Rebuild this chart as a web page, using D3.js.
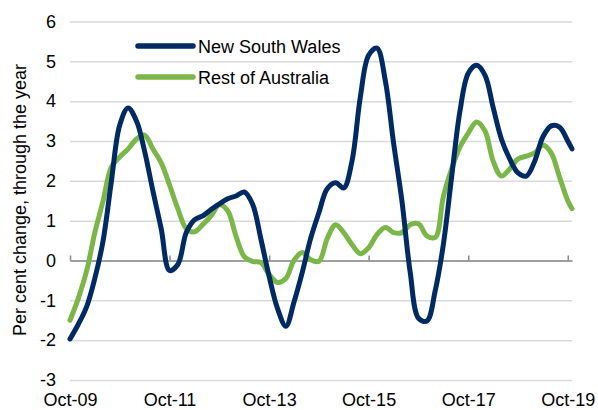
<!DOCTYPE html>
<html>
<head>
<meta charset="utf-8">
<script src="https://cdn.jsdelivr.net/npm/d3@7"></script>
<style>
    body { margin: 0; background: #fff; }
    text { font-family: "Liberation Sans", Arial, sans-serif; font-size: 18px; fill: #000; }
</style>
</head>
<body>
<div id="chart"></div>
<script>

// Series values, one reading every 2 months from Oct-09, last one Nov-19
let nswValues = [
    -1.97, -1.6, -1.15, -0.45, 0.5, 2.0, 3.4, 3.83, 3.5, 2.75,
    1.75, 0.8, -0.25, -0.1, 0.7, 1.02, 1.12, 1.28, 1.42, 1.55,
    1.62, 1.72, 1.42, 0.55, -0.4, -1.2, -1.65, -1.05, -0.3, 0.55,
    1.2, 1.8, 1.95, 1.82, 2.5, 4.1, 5.15, 5.33, 4.5, 2.95,
    1.5, -0.3, -1.45, -1.52, -0.75, 0.4, 2.1, 3.75, 4.7, 4.9,
    4.65, 3.85, 3.05, 2.55, 2.2, 2.12, 2.5, 3.1, 3.38, 3.35,
    3.0, 2.8
]

let restValues = [
    -1.5, -0.95, -0.25, 0.7, 1.5, 2.35, 2.6, 2.8, 3.05, 3.15,
    2.8, 2.45, 1.9, 1.3, 0.8, 0.72, 0.9, 1.12, 1.4, 1.25,
    0.6, 0.1, -0.02, -0.05, -0.35, -0.55, -0.45, 0.0, 0.2, 0.02,
    -0.02, 0.55, 0.9, 0.7, 0.4, 0.17, 0.32, 0.65, 0.83, 0.7,
    0.7, 0.9, 0.92, 0.62, 0.58, 1.6, 2.3, 2.85, 3.2, 3.48,
    3.25, 2.5, 2.12, 2.3, 2.55, 2.62, 2.7, 2.9, 2.7, 2.1,
    1.5, 1.3
]

let seriesNames = ['New South Wales', 'Rest of Australia']
let tickLabels = ['Oct-09', 'Oct-11', 'Oct-13', 'Oct-15', 'Oct-17', 'Oct-19']
let yTicks = [-3, -2, -1, 0, 1, 2, 3, 4, 5, 6]

class lineChart {
    constructor() {
    this.width = 598
    this.height = 410
    this.colors = ['#002a64', '#7ab648']

    // Dates for the readings (every 2nd month counted from Oct-09)
    let start = new Date(2009, 9, 1)
    let end = new Date(2019, 10, 1)
    this.dates = d3.timeMonth.range(start, end, 2)
    this.dates.push(end)

    this.tickDates = tickLabels.map(t => new Date(2000 + +t.slice(4), 9, 1))

    this.x = d3.scaleTime()
        .domain([start, end])
        .range([70, 572])

    this.y = d3.scaleLinear()
        .domain([-3, 6])
        .range([380, 21.5])
    } // End constructor

    draw() {
        let svg = d3.select('#chart').append('svg')
            .attr('width', this.width)
            .attr('height', this.height)

        // Gridlines
        svg.append('g')
            .attr('transform', 'translate(70,0)')
            .call(d3.axisLeft(this.y).tickValues(yTicks).tickSize(-502).tickFormat(''))
            .call(g => g.select('.domain').remove())
            .call(g => g.selectAll('line').attr('stroke', '#d9d9d9').attr('stroke-width', 1.5))

        // Y labels
        svg.append('g')
            .attr('transform', 'translate(56,0)')
            .call(d3.axisLeft(this.y).tickValues(yTicks).tickSize(0).tickPadding(0).tickFormat(d => String(d)))
            .call(g => g.select('.domain').remove())
            .call(g => g.selectAll('text').style('font-size', '18px').attr('fill', '#000'))

        // Zero line with ticks pointing up
        svg.append('g')
            .attr('transform', `translate(0,${this.y(0)})`)
            .call(d3.axisBottom(this.x).tickValues(this.tickDates).tickSizeInner(-5).tickSizeOuter(0).tickFormat(''))
            .call(g => g.select('.domain').attr('stroke', '#888').attr('stroke-width', 1.5))
            .call(g => g.selectAll('line').attr('stroke', '#888').attr('stroke-width', 1.5))

        // X labels at the bottom
        svg.append('g')
            .attr('transform', 'translate(0,393)')
            .call(d3.axisBottom(this.x).tickValues(this.tickDates).tickSize(0).tickPadding(0)
                .tickFormat((d, i) => tickLabels[i]))
            .call(g => g.select('.domain').remove())
            .call(g => g.selectAll('text').style('font-size', '18px').attr('fill', '#000'))

        // Y axis title
        svg.append('text')
            .attr('transform', 'translate(26,200) rotate(-90)')
            .attr('text-anchor', 'middle')
            .text('Per cent change, through the year')

        let line = d3.line()
            .x((d, i) => this.x(this.dates[i]))
            .y(d => this.y(d))
            .curve(d3.curveCatmullRom.alpha(0.5))

        let series = [nswValues, restValues]

        // Draw green below blue, like the reference
        svg.selectAll('.series')
            .data(series.slice().reverse())
            .join('path')
            .attr('class', 'series')
            .attr('d', d => line(d))
            .attr('fill', 'none')
            .attr('stroke', (d, i) => this.colors[1 - i])
            .attr('stroke-width', 5)
            .attr('stroke-linecap', 'round')
            .attr('stroke-linejoin', 'round')

        this.legend(svg)
    }

    legend(svg) {
        let rows = svg.selectAll('.legend')
            .data(seriesNames)
            .join('g')
            .attr('class', 'legend')
            .attr('transform', (d, i) => `translate(138,${46 + i * 31})`)

        rows.append('line')
            .attr('x1', 0)
            .attr('x2', 55)
            .attr('stroke', (d, i) => this.colors[i])
            .attr('stroke-width', 5.5)
            .attr('stroke-linecap', 'round')

        rows.append('text')
            .attr('x', 60)
            .attr('y', 6.5)
            .text(d => d)
    }
} // End lineChart class

let chart = new lineChart()
chart.draw()

</script>
</body>
</html>
